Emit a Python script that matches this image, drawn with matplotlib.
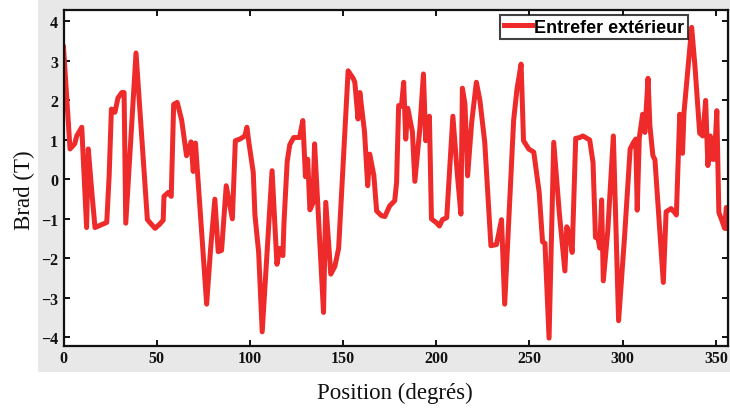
import matplotlib
matplotlib.use("Agg")
import matplotlib.pyplot as plt
from matplotlib.patches import Rectangle

# Radial flux density in the outer air gap versus angular position
position_deg = [
    0.0, 3.5, 6.0, 7.1, 9.8, 12.4, 13.3, 15.1, 16.9, 23.2, 24.5, 25.7, 27.6, 29.2,
    31.3, 32.5, 33.4, 38.9, 45.0, 49.1, 51.7, 53.5, 53.9, 56.2, 57.8, 59.1, 61.0,
    63.4, 66.0, 68.4, 69.6, 70.8, 76.8, 78.9, 81.2, 83.0, 84.8, 87.3, 90.6, 92.2,
    94.6, 97.3, 98.4, 99.4, 101.8, 102.7, 104.7, 106.6, 111.9, 114.5, 116.0, 117.7,
    118.3, 120.0, 121.4, 123.5, 126.6, 128.4, 129.8, 131.0, 132.2, 133.8, 134.7,
    139.5, 140.7, 143.4, 145.6, 147.6, 152.7, 155.4, 156.3, 158.0, 159.0, 161.5,
    163.2, 164.3, 166.5, 168.0, 170.6, 172.4, 175.0, 177.7, 178.7, 179.8, 181.3,
    182.5, 183.6, 184.7, 187.2, 188.5, 191.2, 193.1, 194.3, 196.3, 197.4, 200.1,
    201.7, 203.3, 205.6, 208.9, 211.2, 213.2, 214.0, 215.4, 216.8, 219.0, 221.5,
    223.4, 226.0, 229.3, 232.3, 235.0, 236.7, 241.5, 243.3, 245.5, 246.8, 249.6,
    252.3, 255.2, 257.0, 258.3, 260.5, 263.0, 266.0, 269.0, 270.0, 271.6, 272.9,
    274.8, 277.0, 278.6, 282.3, 284.1, 285.4, 286.8, 287.7, 288.7, 289.6, 292.0,
    295.0, 297.8, 301.0, 304.0, 305.6, 307.0, 307.8, 308.9, 310.7, 311.9, 313.6,
    314.6, 316.2, 317.3, 321.8, 323.3, 326.0, 327.9, 328.8, 330.6, 332.1, 332.9,
    337.0, 338.8, 341.3, 343.0, 344.5, 345.7, 347.0, 348.1, 349.2, 350.5, 351.6,
    353.3, 354.7, 355.6, 356.5,
]
brad_tesla = [
    3.35, 0.77, 0.9, 1.1, 1.32, -1.22, 0.77, -0.27, -1.22, -1.09, 0.1, 1.78, 1.7, 2.06,
    2.2, 2.2, -1.11, 3.2, -1.02, -1.24, -1.13, -1.03, -0.43, -0.33, -0.43, 1.9, 1.95,
    1.5, 0.6, 0.95, 0.2, 0.92, -3.16, -1.77, -0.5, -1.83, -1.8, -0.16, -1.0, 0.98,
    1.02, 1.1, 1.32, 0.95, 0.18, -0.9, -1.85, -3.86, 0.22, -2.15, -1.75, -1.93,
    -1.09, 0.45, 0.88, 1.06, 1.06, 1.49, 0.07, 0.51, -0.77, -0.6, 0.9,
    -3.37, -0.58, -2.4, -2.2, -1.75, 2.75, 2.56, 2.46, 1.53, 2.2, 1.2,
    -0.16, 0.64, 0.1, -0.8, -0.92, -0.94, -0.67, -0.54, -0.08, 1.87, 1.85,
    2.46, 1.02, 1.8, 1.2, -0.05, 1.3, 2.67, 0.98, 1.6, -1.0, -1.1,
    -1.18, -1.02, -0.97, 1.6, 0.18, -0.88, 2.31, 1.9, 0.09, 1.45, 2.46,
    2.0, 0.94, -1.68, -1.65, -1.02, -3.16, 1.5, 2.29, 2.92, 0.98, 0.77,
    0.69, -0.33, -1.58, -1.62, -4.02, 0.94, -0.85, -2.32, -1.2, -1.4, -1.85,
    1.04, 1.06, 1.1, 1.0, 0.42, -1.47, -1.5, -1.74, -0.52, -2.57, -1.3,
    1.1, -3.58, -1.45, 0.77, 0.92, 1.02, -0.78, 1.05, 1.65, 1.19, 2.56,
    1.36, 0.6, 0.5, -2.61, -0.82, -0.74, -0.84, -0.9, 1.65, 0.66, 1.7,
    3.85, 2.85, 1.17, 1.1, 2.0, 0.35, 1.1, 0.51, 0.51, 1.74, -0.84,
    -1.05, -1.24, -0.71, -1.24,
]

x_ticks = [0, 50, 100, 150, 200, 250, 300, 350]
y_ticks = [-4, -3, -2, -1, 0, 1, 2, 3, 4]
series_label = "Entrefer extérieur"
x_label = "Position (degrés)"
y_label = "Brad (T)"

W, H = 730, 414
fig = plt.figure(figsize=(W / 100, H / 100), dpi=100, facecolor="white")

# light grey panel behind the axes
fig.patches.append(Rectangle((38 / W, 1 - 373 / H), 1 - 38 / W, 373 / H,
                             transform=fig.transFigure, facecolor="#e8e8e8",
                             edgecolor="none", zorder=-10))

ax = fig.add_axes([63.5 / W, 1 - 347 / H, (728 - 63.5) / W, (347 - 11) / H])
ax.set_zorder(1)
ax.set_facecolor("white")

ax.plot(position_deg, brad_tesla, color="#ee2a2a", linewidth=3.6,
        solid_joinstyle="round", label=series_label)

ax.set_xlim(0, 356.5)
ax.set_ylim(-4.22, 4.29)
ax.set_xticks(x_ticks)
ax.set_yticks(y_ticks)

for s in ax.spines.values():
    s.set_linewidth(1.6)
    s.set_color("#111111")

ax.tick_params(direction="in", length=4, width=1.4, top=True, right=True,
               colors="#111111")
ax.tick_params(axis="x", pad=3)
ax.tick_params(axis="y", pad=4)
for lbl in ax.get_xticklabels() + ax.get_yticklabels():
    lbl.set_fontfamily("Liberation Serif")
    lbl.set_fontweight("bold")
    lbl.set_fontsize(11.5)

fig.text(395 / W, 1 - 393 / H, x_label, ha="center", va="center",
         fontfamily="Liberation Serif", fontsize=16.5, color="#111111")
fig.text(24 / W, 1 - 190 / H, y_label, ha="center", va="center", rotation=90,
         fontfamily="Liberation Serif", fontsize=16.5, color="#111111")

leg = ax.legend(loc="upper right", bbox_to_anchor=(0.9398, 0.985),
                prop={"family": "Liberation Sans", "weight": "bold", "size": 13},
                frameon=True, fancybox=False, handlelength=1.55, handletextpad=0.15,
                borderpad=0.2, borderaxespad=0.0)
leg.get_frame().set_edgecolor("#111111")
leg.get_frame().set_linewidth(1.5)

fig.savefig("out.png", dpi=100, facecolor=fig.get_facecolor())
